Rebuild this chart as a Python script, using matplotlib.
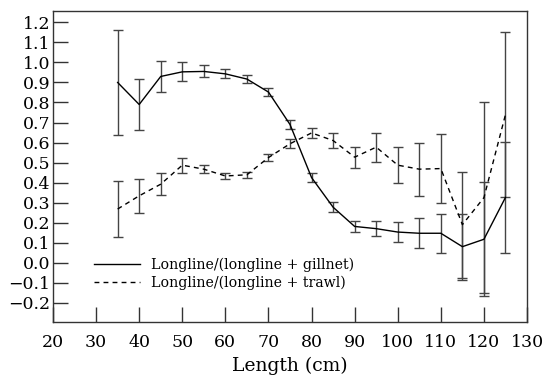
import matplotlib
matplotlib.use("Agg")
import matplotlib.pyplot as plt
from matplotlib.lines import Line2D
import numpy as np

# Length classes (cm)
lengths = [35, 40, 45, 50, 55, 60, 65, 70, 75, 80, 85, 90, 95, 100, 105, 110, 115, 120, 125]

# Longline/(longline + gillnet)
gillnet_ratio = [0.90, 0.79, 0.93, 0.953, 0.955, 0.943, 0.917, 0.852, 0.69, 0.425, 0.277, 0.181,
                 0.17, 0.153, 0.147, 0.147, 0.08, 0.117, 0.326]
gillnet_err = [0.26, 0.125, 0.078, 0.048, 0.03, 0.022, 0.021, 0.022, 0.021, 0.021, 0.024, 0.029,
               0.039, 0.052, 0.075, 0.098, 0.165, 0.285, 0.277]

# Longline/(longline + trawl)
trawl_ratio = [0.268, 0.334, 0.392, 0.487, 0.467, 0.433, 0.439, 0.525, 0.594, 0.648, 0.61, 0.527,
               0.577, 0.487, 0.467, 0.47, 0.19, 0.325, 0.74]
trawl_err = [0.14, 0.084, 0.054, 0.038, 0.021, 0.017, 0.015, 0.017, 0.023, 0.027, 0.036, 0.053,
             0.073, 0.091, 0.133, 0.173, 0.265, 0.478, 0.413]

labels = ['Longline/(longline + gillnet)', 'Longline/(longline + trawl)']
xticks = list(range(20, 131, 10))
yticks = [round(v, 1) for v in np.arange(-0.2, 1.21, 0.1)]

plt.rcParams['font.family'] = ['DejaVu Serif']

fig = plt.figure(figsize=(5.43, 3.79), dpi=100)
ax = fig.add_axes([0.0976, 0.151, 0.873, 0.819])

dash = (0, (3.5, 3))
err_kw = dict(ecolor='#444444', elinewidth=1.0, capsize=3.3, capthick=1.0)
ax.errorbar(lengths, gillnet_ratio, yerr=gillnet_err, color='black', linewidth=1.0, **err_kw)
ax.errorbar(lengths, trawl_ratio, yerr=trawl_err, color='black', linewidth=1.0,
            linestyle=dash, **err_kw)

ax.set_xlim(20, 130)
ax.set_ylim(-0.295, 1.255)
ax.set_xticks(xticks)
ax.set_yticks(yticks)
ax.set_yticklabels([f'{v:.1f}'.replace('-', '\u2212') for v in yticks])
ax.tick_params(direction='in', length=11, width=1.0, labelsize=12.5, color='#333333')
ax.tick_params(axis='y', pad=2)
ax.tick_params(axis='x', pad=9)
for s in ax.spines.values():
    s.set_color('#333333')
    s.set_linewidth(1.0)

ax.set_xlabel('Length (cm)', fontsize=13.5, labelpad=4)

# legend with plain line handles (no errorbar caps)
handles = [Line2D([], [], color='black', linewidth=1.0),
           Line2D([], [], color='black', linewidth=1.0, linestyle=dash)]
ax.legend(handles, labels, loc='lower left', frameon=False, fontsize=10.2, handlelength=3.2,
          handletextpad=0.8, labelspacing=0.3, bbox_to_anchor=(0.06, 0.06))

fig.savefig('out.png', dpi=100)
